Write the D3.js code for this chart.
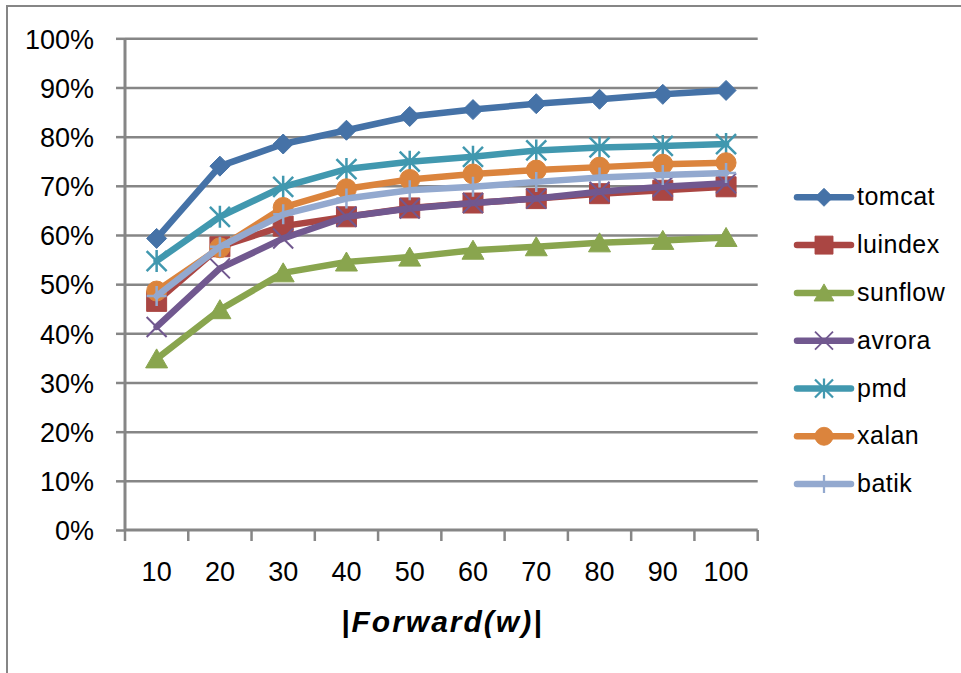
<!DOCTYPE html>
<html>
<head>
<meta charset="utf-8">
<script src="https://cdn.jsdelivr.net/npm/d3@7"></script>
<style>
  html, body { margin: 0; padding: 0; background: #fff; }
  svg { display: block; }
</style>
</head>
<body>
<script>
// values (fractions)
const categories = ["10", "20", "30", "40", "50", "60", "70", "80", "90", "100"];
const yTicks = [0, 0.1, 0.2, 0.3, 0.4, 0.5, 0.6, 0.7, 0.8, 0.9, 1.0];

const tomcat  = [0.593, 0.740, 0.785, 0.813, 0.841, 0.855, 0.867, 0.876, 0.886, 0.894];
const luindex = [0.465, 0.576, 0.618, 0.637, 0.655, 0.665, 0.674, 0.684, 0.691, 0.698];
const sunflow = [0.348, 0.448, 0.523, 0.545, 0.555, 0.569, 0.576, 0.584, 0.589, 0.595];
const avrora  = [0.413, 0.532, 0.593, 0.637, 0.654, 0.665, 0.674, 0.688, 0.698, 0.705];
const pmd     = [0.547, 0.637, 0.698, 0.734, 0.749, 0.759, 0.772, 0.778, 0.781, 0.785];
const xalan   = [0.486, 0.574, 0.656, 0.694, 0.713, 0.724, 0.732, 0.738, 0.744, 0.747];
const batik   = [0.476, 0.576, 0.642, 0.674, 0.691, 0.698, 0.708, 0.717, 0.722, 0.726];

const seriesNames = ["tomcat", "luindex", "sunflow", "avrora", "pmd", "xalan", "batik"];
const seriesValues = [tomcat, luindex, sunflow, avrora, pmd, xalan, batik];
const seriesColors = ["#4572A7", "#AA4643", "#89A54E", "#71588F", "#4198AF", "#DB843D", "#93A9CF"];
const seriesMarkers = ["diamond", "square", "triangle", "x", "star", "circle", "plus"];

const w = 961;
const h = 673;
const plot = { left: 125, right: 757.7, top: 38.3, bottom: 530 };
const grey = "#868686";

const svg = d3.select("body").append("svg").attr("width", w).attr("height", h);

// partial frame (top and left edge only are visible)
svg.append("path")
  .attr("d", `M7,${h + 5}V6H${w + 5}`)
  .attr("fill", "none")
  .attr("stroke", grey)
  .attr("stroke-width", 2);

const xScale = d3.scaleBand().domain(categories).range([plot.left, plot.right]);
const yScale = d3.scaleLinear().domain([0, 1]).range([plot.bottom, plot.top]);
const cx = (c) => xScale(c) + xScale.bandwidth() / 2;

// gridlines
svg.append("g")
  .attr("transform", `translate(${plot.left},0)`)
  .call(d3.axisLeft(yScale).tickValues(yTicks.slice(1)).tickSize(-(plot.right - plot.left)).tickFormat(""))
  .call((g) => g.select(".domain").remove())
  .call((g) => g.selectAll("line").attr("stroke", grey).attr("stroke-width", 2.5));

// y axis
const yAxis = svg.append("g")
  .attr("transform", `translate(${plot.left},0)`)
  .call(d3.axisLeft(yScale).tickValues(yTicks).tickSize(9).tickPadding(22).tickFormat(d3.format(".0%")));
yAxis.select(".domain").attr("stroke", grey).attr("stroke-width", 3).attr("d", `M0,${plot.bottom}V${plot.top}`);
yAxis.selectAll("line").attr("stroke", grey).attr("stroke-width", 2.5);
yAxis.selectAll("text")
  .attr("font-family", "Liberation Sans")
  .attr("font-size", 27)
  .attr("fill", "#000")
  .attr("dy", "0.36em");

// x axis
const xAxis = svg.append("g")
  .attr("transform", `translate(0,${plot.bottom})`)
  .call(d3.axisBottom(xScale).tickSize(0).tickPadding(32));
xAxis.select(".domain").attr("stroke", grey).attr("stroke-width", 3).attr("d", `M${plot.left},0H${plot.right}`);
xAxis.selectAll("text")
  .attr("font-family", "Liberation Sans")
  .attr("font-size", 27)
  .attr("fill", "#000")
  .attr("dy", "0.71em");

// category boundary ticks
const bounds = categories.map((c) => xScale(c)).concat([plot.right]);
svg.append("g").selectAll("line")
  .data(bounds)
  .enter()
  .append("line")
  .attr("x1", (d) => d).attr("x2", (d) => d)
  .attr("y1", plot.bottom).attr("y2", plot.bottom + 11)
  .attr("stroke", grey).attr("stroke-width", 2.5);

// axis title
svg.append("text")
  .attr("x", (plot.left + plot.right) / 2 + 1)
  .attr("y", 632)
  .attr("text-anchor", "middle")
  .attr("font-family", "Liberation Sans")
  .attr("font-size", 30)
  .attr("font-weight", "bold")
  .attr("font-style", "italic")
  .attr("letter-spacing", 2)
  .text("|Forward(w)|");

// marker shapes, centred on 0,0
const markerPath = (type) => {
  const r = 10;
  switch (type) {
    case "diamond": return `M0,${-r}L${r},0L0,${r}L${-r},0Z`;
    case "square": return `M${-r},${-r}H${r}V${r}H${-r}Z`;
    case "triangle": return `M0,${-r}L${r + 1},${r - 1}H${-r - 1}Z`;
    case "circle": return d3.symbol(d3.symbolCircle, Math.PI * r * r)();
    case "x": return `M${-r},${-r}L${r},${r}M${r},${-r}L${-r},${r}`;
    case "star": return `M${-r},${-r}L${r},${r}M${r},${-r}L${-r},${r}M0,${-r - 1}V${r + 1}`;
    case "plus": return `M0,${-r}V${r}M${-r},0H${r}`;
  }
};
const filled = (type) => ["diamond", "square", "triangle", "circle"].includes(type);

const drawMarker = (g, type, color) => {
  g.append("path")
    .attr("d", markerPath(type))
    .attr("fill", filled(type) ? color : "none")
    .attr("stroke", color)
    .attr("stroke-width", filled(type) ? 1 : (type === "x" ? 2 : 2.5))
    .attr("stroke-linejoin", "round");
};

const line = d3.line().x((d, i) => cx(categories[i])).y((d) => yScale(d));

seriesNames.forEach((name, s) => {
  const g = svg.append("g").attr("class", "series");
  g.append("path")
    .datum(seriesValues[s])
    .attr("d", line)
    .attr("fill", "none")
    .attr("stroke", seriesColors[s])
    .attr("stroke-width", 6.5)
    .attr("stroke-linejoin", "round")
    .attr("stroke-linecap", "round");
  seriesValues[s].forEach((v, i) => {
    const m = g.append("g").attr("transform", `translate(${cx(categories[i])},${yScale(v)})`);
    drawMarker(m, seriesMarkers[s], seriesColors[s]);
  });
});

// legend
const legendTop = 197.3;
const legendStep = 47.8;
seriesNames.forEach((name, s) => {
  const g = svg.append("g").attr("transform", `translate(0,${legendTop + s * legendStep})`);
  g.append("line")
    .attr("x1", 797).attr("x2", 851)
    .attr("stroke", seriesColors[s])
    .attr("stroke-width", 6.5)
    .attr("stroke-linecap", "round");
  const m = g.append("g").attr("transform", "translate(824,0) scale(0.9)");
  drawMarker(m, seriesMarkers[s], seriesColors[s]);
  g.append("text")
    .attr("x", 857)
    .attr("y", 8)
    .attr("font-family", "Liberation Sans")
    .attr("font-size", 25)
    .attr("letter-spacing", 0.5)
    .attr("fill", "#000")
    .text(name);
});
</script>
</body>
</html>
